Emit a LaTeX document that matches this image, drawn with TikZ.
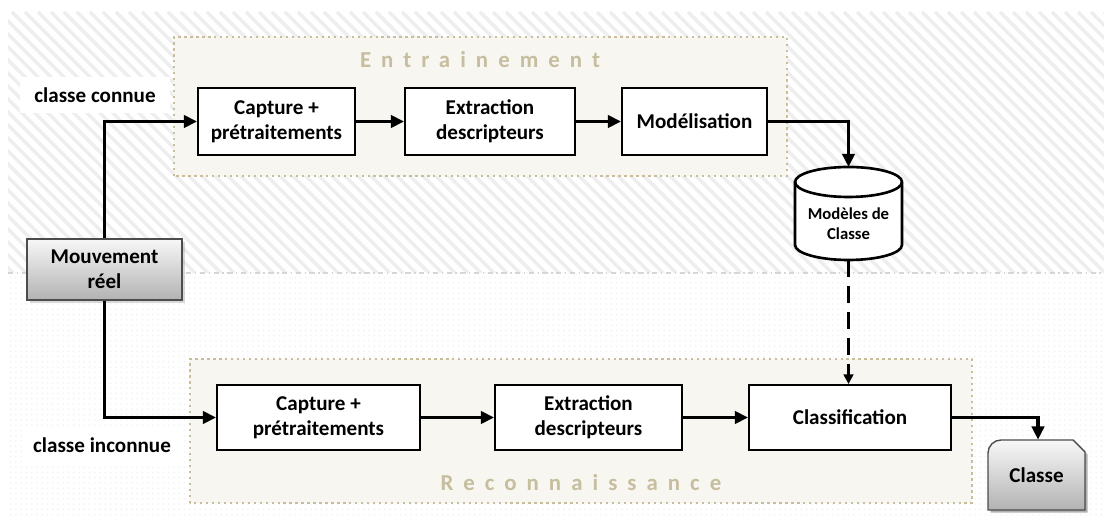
\documentclass[tikz,border=0pt]{standalone}
\usepackage{fontspec}
\setmainfont{Carlito}
\usetikzlibrary{arrows.meta,shadows,patterns}
\definecolor{grpfill}{RGB}{247,246,241}
\definecolor{grpline}{RGB}{200,190,155}
\definecolor{grptext}{RGB}{198,190,158}
\definecolor{hatchcol}{RGB}{238,238,238}
\tikzset{
  proc/.style={draw=black, line width=1.1pt, fill=white, align=center, inner sep=0pt,
    font=\bfseries\fontsize{12}{14.5}\selectfont},
  grp/.style={draw=grpline, fill=grpfill, line width=1.4pt, dash pattern=on 1.3pt off 2.1pt},
  grptitle/.style={text=grptext, font=\bfseries\fontsize{13}{15}\selectfont\addfontfeatures{LetterSpace=44}},
  flow/.style={line width=2.2pt, -{Triangle[length=7.5pt,width=7pt]}},
  dflow/.style={line width=2pt, dash pattern=on 0.34cm off 0.18cm, -{Triangle[length=5.5pt,width=5.5pt]}},
  greybox/.style={draw=black!70, line width=0.8pt, top color=black!3, bottom color=black!30,
    drop shadow={opacity=0.3, shadow xshift=1.5pt, shadow yshift=-1.5pt}},
  sidelabel/.style={fill=white, inner sep=0pt, minimum height=0.72cm,
    font=\bfseries\fontsize{12}{14.5}\selectfont},
}
\begin{document}
\begin{tikzpicture}[x=0.02cm, y=0.02cm]
  % page frame
  \fill[white] (0,0) rectangle (1104,520);
  \useasboundingbox (0,0) rectangle (1104,520);

  % upper band: diagonal stripes
  \begin{scope}
    \clip (8,247) rectangle (1104,508);
    \foreach \i in {-300,-287,...,1110}
      \draw[hatchcol, line width=2pt] (\i,508) -- ++(261,-261);
  \end{scope}
  % lower band: fine dots
  \fill[pattern=dots, pattern color=black!5] (8,2) rectangle (1104,247);
  \draw[black!16, line width=0.8pt, dash dot] (8,247) -- (1104,247);

  % the two phases
  \path[grp] (174,344) rectangle (787,483);
  \path[grp] (190,17) rectangle (972,161);
  \node[grptitle] (tEnt) at (480,460) {Entrainement};
  \node[grptitle] (tRec) at (581,37) {Reconnaissance};

  % training chain
  \node[proc, minimum width=3.14cm, minimum height=1.34cm] (cap1) at (276.5,398.5) {Capture +\\prétraitements};
  \node[proc, minimum width=3.4cm,  minimum height=1.34cm] (ext1) at (490,398.5) {Extraction\\descripteurs};
  \node[proc, minimum width=2.9cm,  minimum height=1.34cm] (model) at (694.5,398.5) {Modélisation};

  % recognition chain
  \node[proc, minimum width=4.06cm, minimum height=1.3cm] (cap2) at (318.5,102.5) {Capture +\\prétraitements};
  \node[proc, minimum width=3.74cm, minimum height=1.3cm] (ext2) at (588.5,102.5) {Extraction\\descripteurs};
  \node[proc, minimum width=4.04cm, minimum height=1.3cm] (classif) at (850,102.5) {Classification};

  % input
  \node[greybox, align=center, inner sep=0pt, minimum width=3.1cm, minimum height=1.22cm,
        font=\bfseries\fontsize{12}{14.5}\selectfont] (mvt) at (104.5,250.5) {Mouvement\\réel};

  % side labels
  \node[sidelabel, minimum width=3cm] (lconnue) at (95,425) {classe connue};
  \node[sidelabel, minimum width=3.2cm] (linconnue) at (102,75) {classe inconnue};

  % class models store (cylinder)
  \draw[line width=1.5pt, fill=white]
    (795,338) -- (795,275) arc[start angle=180, end angle=360, x radius=1.07cm, y radius=0.3cm]
    -- (902,338) arc[start angle=0, end angle=180, x radius=1.07cm, y radius=0.3cm] -- cycle;
  \draw[line width=1.5pt] (795,338) arc[start angle=180, end angle=360, x radius=1.07cm, y radius=0.3cm];
  \node[align=center, font=\bfseries\fontsize{9.5}{11.6}\selectfont] (store) at (848.5,296) {Modèles de\\Classe};
  \coordinate (storetop) at (848.5,353);
  \coordinate (storebot) at (848.5,260);

  % output class document
  \fill[black, opacity=0.3] (990.5,7.5) -- (990.5,64.5) arc[start angle=180, end angle=90, radius=0.26cm]
    -- (1075.5,77.5) -- (1087.5,65.5) -- (1087.5,7.5) -- cycle;
  \path[draw=black!70, line width=0.8pt, top color=black!3, bottom color=black!30]
    (988,10) -- (988,67) arc[start angle=180, end angle=90, radius=0.26cm]
    -- (1073,80) -- (1085,68) -- (1085,10) -- cycle;
  \node[inner sep=0pt, minimum width=1.94cm, minimum height=1.4cm,
        font=\bfseries\fontsize{12}{14.5}\selectfont] (classe) at (1036.5,45) {Classe};

  % connectors
  \draw[flow] (mvt.north) |- (cap1.west);
  \draw[flow] (mvt.south) |- (cap2.west);
  \draw[flow] (cap1) -- (ext1);
  \draw[flow] (ext1) -- (model);
  \draw[flow] (model.east) -| (storetop);
  \draw[flow] (cap2) -- (ext2);
  \draw[flow] (ext2) -- (classif);
  \draw[dflow] (storebot) -- (storebot |- classif.north);
  \draw[flow] (classif.east) -| ([xshift=0.03cm]classe.north);
\end{tikzpicture}
\end{document}
